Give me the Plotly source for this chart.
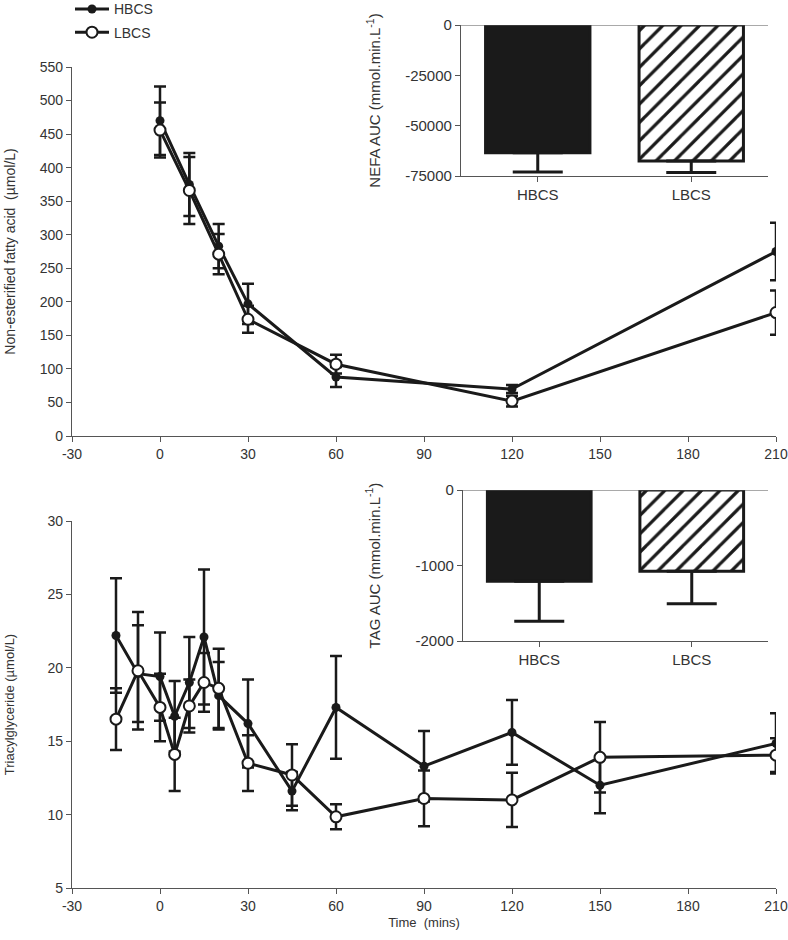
import plotly.graph_objects as go

# ---- data ----
nefa_time = [0, 10, 20, 30, 60, 120, 210]
nefa_hbcs = [470, 375, 283, 197, 88, 70, 275]
nefa_hbcs_err = [51, 47, 33, 30, 15, 6, 43]
nefa_lbcs = [456, 366, 271, 174, 107, 52, 184]
nefa_lbcs_err = [41, 50, 30, 20, 14, 8, 33]

tag_time = [-15, -7.5, 0, 5, 10, 15, 20, 30, 45, 60, 90, 120, 150, 210]
tag_hbcs = [22.2, 19.6, 19.4, 16.7, 19.0, 22.1, 18.1, 16.2, 11.6, 17.3, 13.3, 15.6, 12.0, 14.85]
tag_hbcs_err = [3.9, 3.3, 3.0, 2.4, 3.1, 4.6, 2.3, 3.0, 1.3, 3.5, 2.4, 2.2, 1.9, 2.05]
tag_lbcs = [16.5, 19.8, 17.3, 14.1, 17.4, 19.0, 18.6, 13.5, 12.7, 9.85, 11.1, 11.0, 13.9, 14.05]
tag_lbcs_err = [2.1, 4.0, 2.3, 2.5, 1.8, 2.0, 2.7, 1.9, 2.1, 0.85, 1.9, 1.85, 2.4, 1.15]

groups = ["HBCS", "LBCS"]
nefa_auc = [-63500, -67500]
nefa_auc_err = [9500, 5800]
tag_auc = [-1210, -1075]
tag_auc_err = [530, 430]

time_ticks = [-30, 0, 30, 60, 90, 120, 150, 180, 210]

W, H = 788, 940
FONT = "Liberation Sans, Arial, sans-serif"
AX = "#555555"
TXT = "#333333"
INK = "#1a1a1a"


def px_x(a, b):
    return [a / W, b / W]


def px_y(top, bottom):
    return [1 - bottom / H, 1 - top / H]


fig = go.Figure()


def line_pair(x, y1, e1, y2, e2, xa, ya, legend):
    fig.add_trace(go.Scatter(
        x=x, y=y1, name="HBCS", mode="lines+markers", xaxis=xa, yaxis=ya,
        showlegend=legend, legendgroup="h",
        line=dict(color=INK, width=3),
        marker=dict(symbol="circle", size=9, color=INK),
        error_y=dict(type="data", array=e1, color=INK, thickness=2.5, width=6),
    ))
    fig.add_trace(go.Scatter(
        x=x, y=y2, name="LBCS", mode="lines+markers", xaxis=xa, yaxis=ya,
        showlegend=legend, legendgroup="l",
        line=dict(color=INK, width=3),
        marker=dict(symbol="circle", size=11, color="white",
                    line=dict(color=INK, width=2)),
        error_y=dict(type="data", array=e2, color=INK, thickness=2.5, width=6),
    ))


line_pair(nefa_time, nefa_hbcs, nefa_hbcs_err, nefa_lbcs, nefa_lbcs_err, "x", "y", True)
line_pair(tag_time, tag_hbcs, tag_hbcs_err, tag_lbcs, tag_lbcs_err, "x2", "y2", False)


def bars(vals, errs, xa, ya):
    # solid HBCS bar
    fig.add_trace(go.Bar(
        x=groups[:1], y=vals[:1], xaxis=xa, yaxis=ya, showlegend=False, width=0.68,
        marker=dict(color=INK, line=dict(color=INK, width=3)),
        error_y=dict(type="data", symmetric=False, array=[0], arrayminus=errs[:1],
                     color=INK, thickness=3, width=25),
    ))
    # hatched LBCS bar
    fig.add_trace(go.Bar(
        x=groups[1:], y=vals[1:], xaxis=xa, yaxis=ya, showlegend=False, width=0.68,
        marker=dict(color="white", line=dict(color=INK, width=3),
                    pattern=dict(shape="/", fillmode="overlay", fgcolor=INK,
                                 fgopacity=1, size=13, solidity=0.25)),
        error_y=dict(type="data", symmetric=False, array=[0], arrayminus=errs[1:],
                     color=INK, thickness=3, width=25),
    ))


bars(nefa_auc, nefa_auc_err, "x3", "y3")
bars(tag_auc, tag_auc_err, "x4", "y4")

tick_font = dict(family=FONT, size=14, color=TXT)
common = dict(showline=True, linecolor=AX, linewidth=1.2, ticks="outside",
              tickcolor=AX, ticklen=5, showgrid=False, zeroline=False,
              tickfont=tick_font, automargin=False)
inset = {**common, "tickfont": dict(family=FONT, size=15, color=TXT)}
time_text = [str(t) for t in time_ticks]

fig.update_layout(
    width=W, height=H,
    margin=dict(l=0, r=0, t=0, b=0, autoexpand=False),
    paper_bgcolor="white", plot_bgcolor="rgba(0,0,0,0)",
    font=dict(family=FONT, color=TXT),
    barmode="overlay",
    legend=dict(x=70 / W, y=1.007, xanchor="left", yanchor="top",
                font=dict(family=FONT, size=14, color=TXT),
                bgcolor="rgba(0,0,0,0)", itemwidth=34, tracegroupgap=2),
    xaxis=dict(domain=px_x(72, 776), range=[-30, 210], tickvals=time_ticks,
               ticktext=time_text, anchor="y", **common),
    yaxis=dict(domain=px_y(67, 436), range=[0, 550], dtick=50, anchor="x",
               title=dict(text="Non-esterified fatty acid  (µmol/L)",
                          font=dict(size=14, color=TXT), standoff=20),
               **common),
    xaxis2=dict(domain=px_x(72, 776), range=[-30, 210], tickvals=time_ticks,
                ticktext=time_text, anchor="y2",
                title=dict(text="Time  (mins)", font=dict(size=13, color=TXT),
                           standoff=4),
                **common),
    yaxis2=dict(domain=px_y(521, 888), range=[5, 30], dtick=5, anchor="x2",
                title=dict(text="Triacylglyceride (µmol/L)",
                           font=dict(size=13, color=TXT), standoff=29),
                **common),
    xaxis3=dict(domain=px_x(461, 768), range=[-0.5, 1.5], anchor="y3", **inset),
    yaxis3=dict(domain=px_y(25, 176), range=[-75000, 0],
                tickvals=[0, -25000, -50000, -75000],
                ticktext=["0", "-25000", "-50000", "-75000"], anchor="x3",
                title=dict(text="NEFA AUC (mmol.min.L<sup>-1</sup>)",
                           font=dict(size=15, color=TXT), standoff=20),
                **inset),
    xaxis4=dict(domain=px_x(463, 768), range=[-0.5, 1.5], anchor="y4", **inset),
    yaxis4=dict(domain=px_y(490, 641), range=[-2000, 0],
                tickvals=[0, -1000, -2000], ticktext=["0", "-1000", "-2000"],
                anchor="x4",
                title=dict(text="TAG AUC (mmol.min.L<sup>-1</sup>)",
                           font=dict(size=15, color=TXT), standoff=31),
                **inset),
)

# zero lines across the insets
for ya, xa in (("y3", "x3"), ("y4", "x4")):
    fig.add_shape(type="line", xref=xa + " domain", yref=ya, x0=0, x1=1, y0=0, y1=0,
                  line=dict(color=AX, width=1.2))

fig.write_html("out.html", config={"displayModeBar": False},
               post_script="document.body.style.margin='0';")
